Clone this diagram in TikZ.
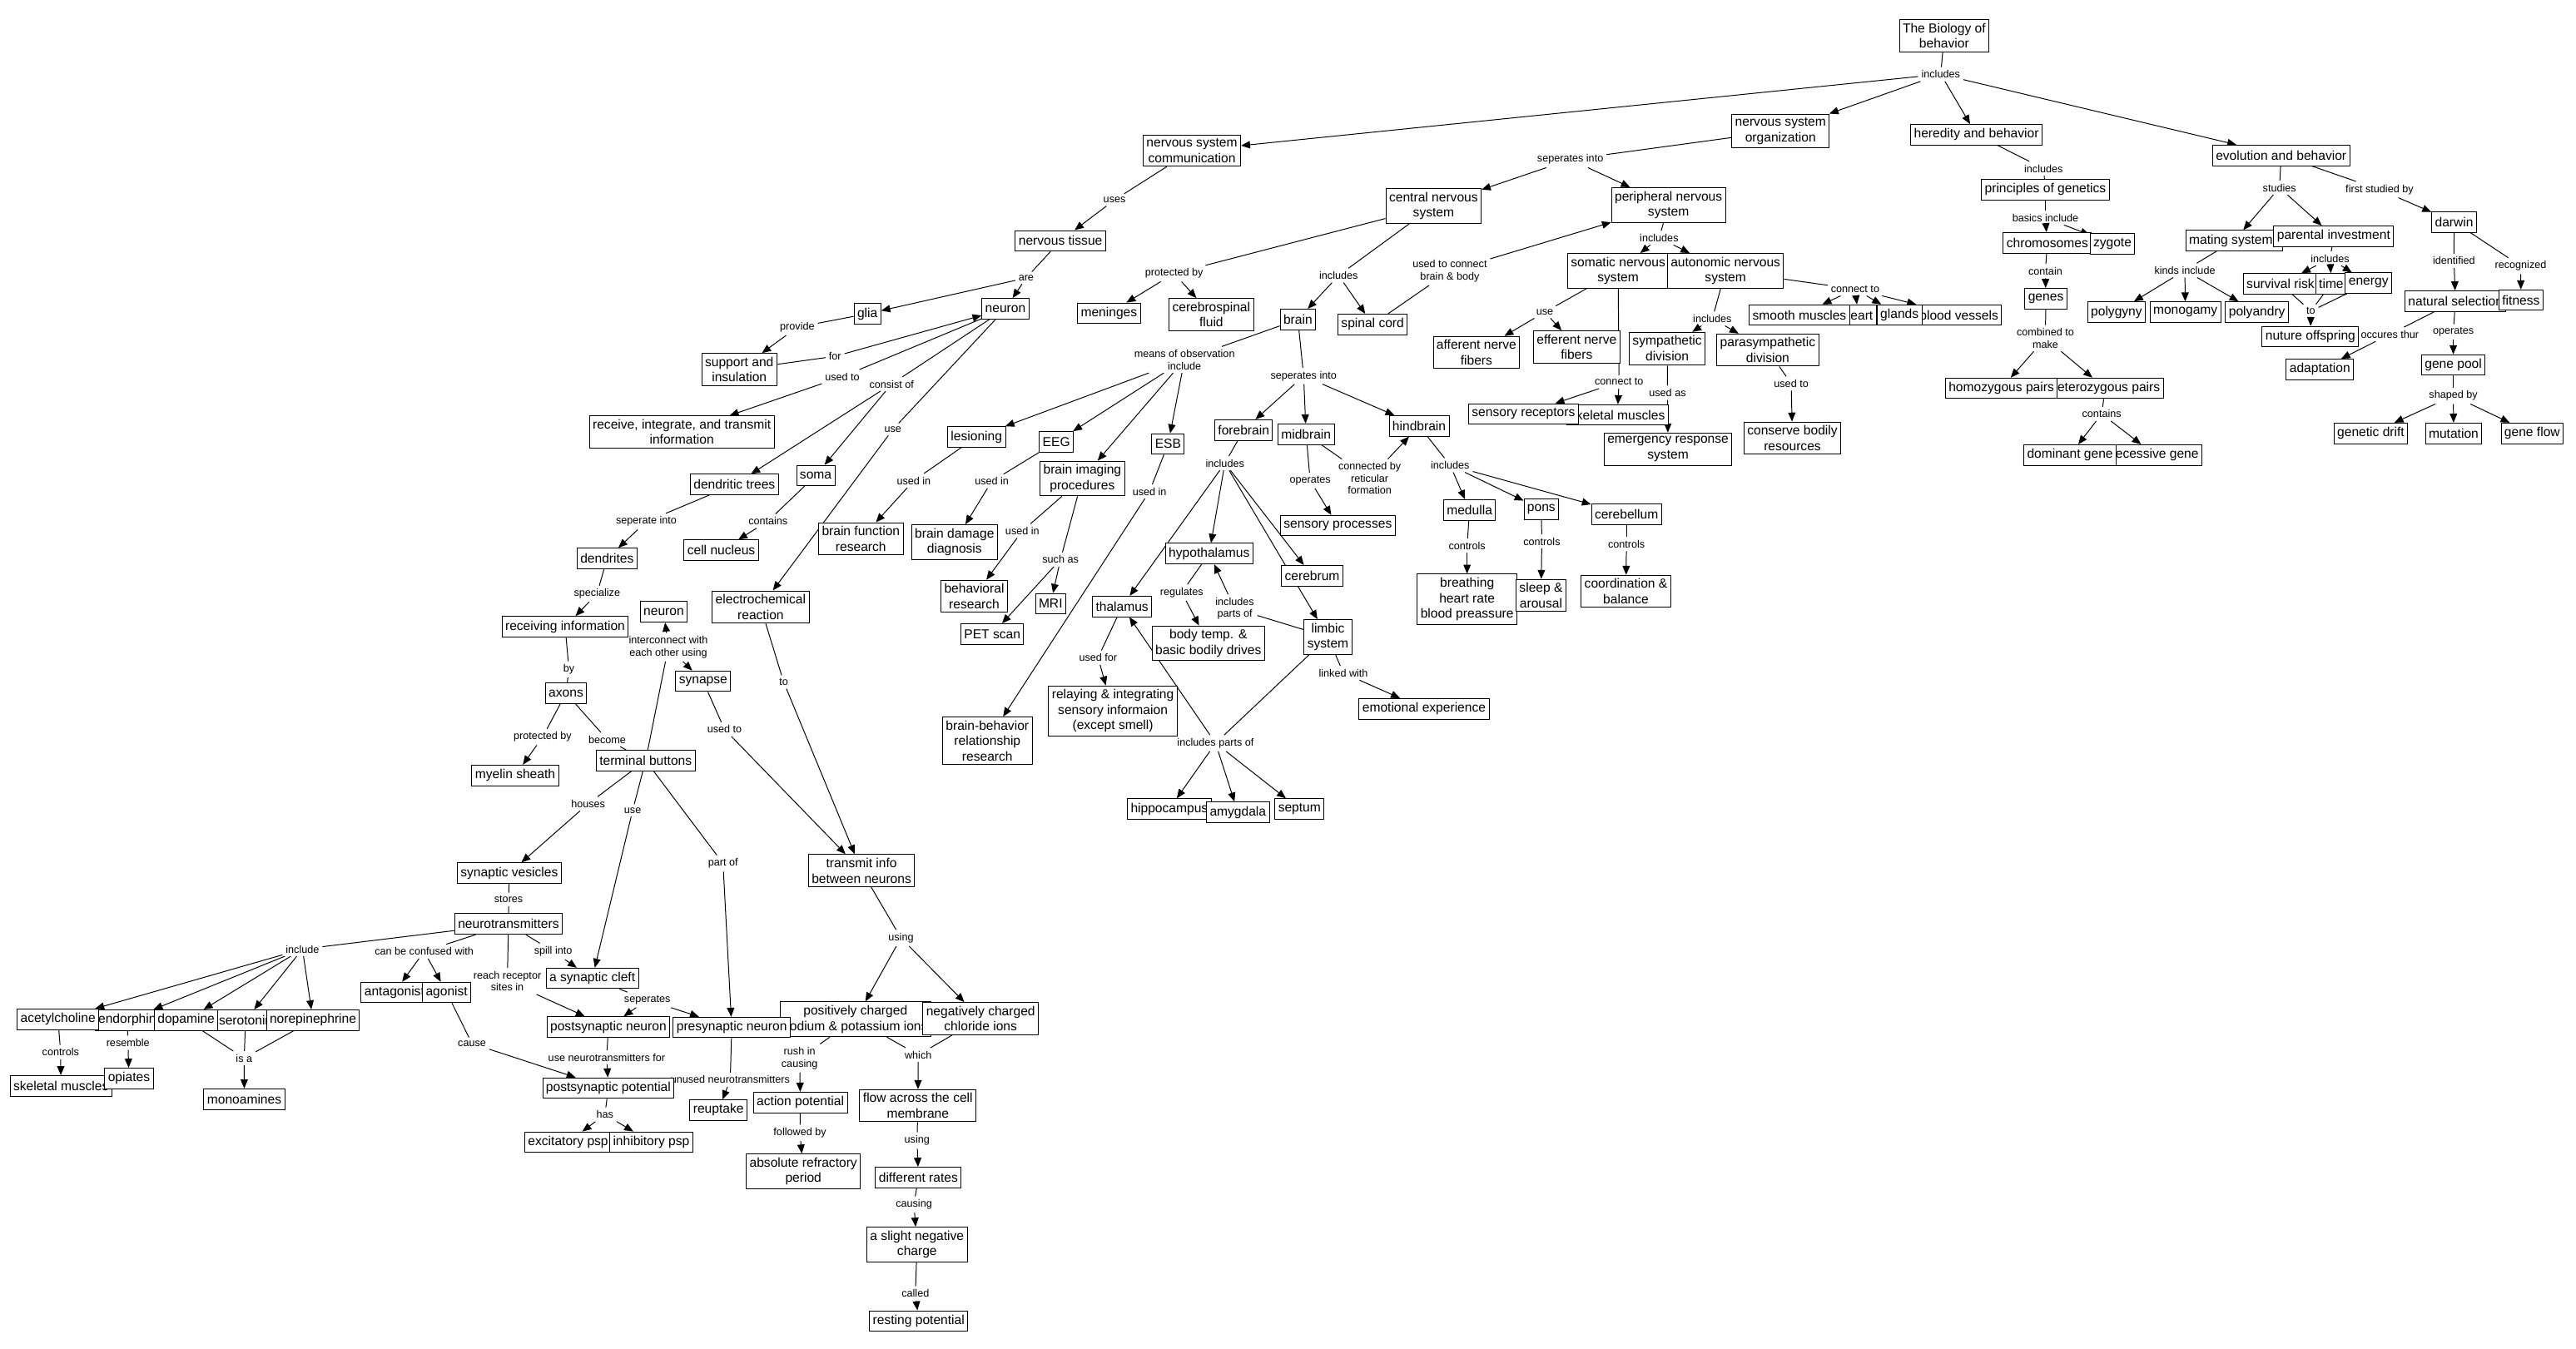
\documentclass[tikz,border=0pt]{standalone}
\usepackage{fontspec}
\setmainfont{Liberation Sans}
\usetikzlibrary{arrows.meta,backgrounds}
\newcommand\bxf{\fontsize{7.9}{9.4}\selectfont}
\newcommand\lbf{\fontsize{6.4}{7.4}\selectfont}
\begin{document}
\begin{tikzpicture}[x=1pt,y=-1pt,
 bx/.style={draw,fill=white,font=\bxf,align=center,inner xsep=2pt,inner ysep=2.2pt,minimum height=12.5pt,line width=0.5pt},
 lb/.style={font=\lbf,align=center,inner sep=1.8pt},
 ln/.style={line width=0.5pt},
 ar/.style={line width=0.5pt,-{Triangle[length=5.5pt,width=4.5pt]}}]
\useasboundingbox (0,0) rectangle (1568,821);
% ---------------- labels ----------------
\node[lb] (l1) at (1181.3,45.2) {includes};
\node[lb] (l2) at (955.8,97.1) {seperates into};
\node[lb] (l3) at (678.4,121.7) {uses};
\node[lb] (l4) at (1243.9,102.6) {includes};
\node[lb] (l5) at (1387.5,114.3) {studies};
\node[lb] (l6) at (1448.4,115.4) {first studied by};
\node[lb] (l7) at (1245,132.6) {basics include};
\node[lb] (l8) at (1245,165) {contain};
\node[lb] (l9) at (1245,205.9) {combined to\\make};
\node[lb] (l10) at (1279.3,252) {contains};
\node[lb] (l11) at (1329.9,164.6) {kinds include};
\node[lb] (l12) at (1418.3,157.4) {includes};
\node[lb] (l13) at (1406.6,189.4) {to};
\node[lb] (l14) at (1493.7,158.8) {identified};
\node[lb] (l15) at (1534.3,161.9) {recognized};
\node[lb] (l16) at (1454.7,203.5) {occures thur};
\node[lb] (l17) at (1493.3,202.1) {operates};
\node[lb] (l18) at (1493.3,241) {shaped by};
\node[lb] (l19) at (1009.9,144.8) {includes};
\node[lb] (l20) at (1129.2,176) {connect to};
\node[lb] (l21) at (1042.3,194) {includes};
\node[lb] (l22) at (1090.3,233.5) {used to};
\node[lb] (l23) at (1015,239.1) {used as};
\node[lb] (l24) at (985.5,232.5) {connect to};
\node[lb] (l25) at (940.3,190) {use};
\node[lb] (l26) at (714.7,166.5) {protected by};
\node[lb] (l27) at (814.8,167.7) {includes};
\node[lb] (l28) at (882.5,165) {used to connect\\brain \& body};
\node[lb] (l29) at (721,219) {means of observation\\include};
\node[lb] (l30) at (793.5,228.9) {seperates into};
\node[lb] (l31) at (556.2,292.6) {used in};
\node[lb] (l32) at (603.7,293) {used in};
\node[lb] (l33) at (622.3,323.2) {used in};
\node[lb] (l34) at (645.5,340.6) {such as};
\node[lb] (l35) at (699.7,299.2) {used in};
\node[lb] (l36) at (745.6,282) {includes};
\node[lb] (l37) at (797.5,292.6) {operates};
\node[lb] (l38) at (833.7,291.2) {connected by\\reticular\\formation};
\node[lb] (l39) at (882.7,283.2) {includes};
\node[lb] (l40) at (893,332.2) {controls};
\node[lb] (l41) at (938.5,329.6) {controls};
\node[lb] (l42) at (990,331.2) {controls};
\node[lb] (l43) at (719.3,360.7) {regulates};
\node[lb] (l44) at (751.6,370.5) {includes\\parts of};
\node[lb] (l45) at (668.4,400.3) {used for};
\node[lb] (l46) at (817.7,409.7) {linked with};
\node[lb] (l47) at (739.9,452.4) {includes parts of};
\node[lb] (l48) at (624.6,169.2) {are};
\node[lb] (l49) at (485.3,199.2) {provide};
\node[lb] (l50) at (508.3,216.9) {for};
\node[lb] (l51) at (512.7,229.3) {used to};
\node[lb] (l52) at (542.7,233.8) {consist of};
\node[lb] (l53) at (543.5,261.4) {use};
\node[lb] (l54) at (393.4,317.5) {seperate into};
\node[lb] (l55) at (467.5,317.2) {contains};
\node[lb] (l56) at (363.4,361.5) {specialize};
\node[lb] (l57) at (406.8,394) {interconnect with\\each other using};
\node[lb] (l58) at (346.3,407.5) {by};
\node[lb] (l59) at (477,415.2) {to};
\node[lb] (l60) at (441,444) {used to};
\node[lb] (l61) at (330.3,448.7) {protected by};
\node[lb] (l62) at (369.6,450.2) {become};
\node[lb] (l63) at (358,489.3) {houses};
\node[lb] (l64) at (385.1,493.3) {use};
\node[lb] (l65) at (440.1,525.6) {part of};
\node[lb] (l66) at (309.6,547.5) {stores};
\node[lb] (l67) at (548.4,571) {using};
\node[lb] (l68) at (184.1,577.8) {include};
\node[lb] (l69) at (258.2,579.2) {can be confused with};
\node[lb] (l70) at (336.7,579.2) {spill into};
\node[lb] (l71) at (308.8,597.3) {reach receptor\\sites in};
\node[lb] (l72) at (394,608.7) {seperates};
\node[lb] (l73) at (36.9,640.5) {controls};
\node[lb] (l74) at (77.9,634.8) {resemble};
\node[lb] (l75) at (148.6,644.2) {is a};
\node[lb] (l76) at (287.3,635.3) {cause};
\node[lb] (l77) at (369.3,643.7) {use neurotransmitters for};
\node[lb] (l78) at (368.2,678.5) {has};
\node[lb] (l79) at (444.5,657.3) {unused neurotransmitters};
\node[lb] (l80) at (486.7,644.2) {rush in\\causing};
\node[lb] (l81) at (558.9,642.2) {which};
\node[lb] (l82) at (486.9,689.7) {followed by};
\node[lb] (l83) at (558.2,694.3) {using};
\node[lb] (l84) at (556.3,733.3) {causing};
\node[lb] (l85) at (557.2,787.4) {called};
% ---------------- boxes: top and heredity/evolution ----------------
\node[bx] (bio) at (1183.4,21.7) {The Biology of\\behavior};
\node[bx] (nsc) at (725.5,91.7) {nervous system\\communication};
\node[bx] (nso) at (1083.8,79.7) {nervous system\\organization};
\node[bx] (her) at (1203,82) {heredity and behavior};
\node[bx] (evo) at (1388.5,94.6) {evolution and behavior};
\node[bx] (pog) at (1245,115.4) {principles of genetics};
\node[bx] (chr) at (1246.2,147.8) {chromosomes};
\node[bx] (zyg) at (1285.8,148.3) {zygote};
\node[bx] (gen) at (1245.3,181.8) {genes};
\node[bx,anchor=east] (het) at (1317,236.4) {heterozygous pairs};
\node[bx] (hom) at (1218.2,236.4) {homozygous pairs};
\node[bx,anchor=east] (rec) at (1340.5,277) {recessive gene};
\node[bx] (dom) at (1260,277) {dominant gene};
\node[bx,anchor=west] (mat) at (1330.2,146.5) {mating systems};
\node[bx] (par) at (1420.5,143.8) {parental investment};
\node[bx] (dar) at (1493.8,135.1) {darwin};
\node[bx] (pgy) at (1288.3,190) {polygyny};
\node[bx] (mon) at (1330.2,190) {monogamy};
\node[bx] (pan) at (1373.8,190) {polyandry};
\node[bx] (sur) at (1388.1,172.8) {survival risk};
\node[bx] (tim) at (1419,172.8) {time};
\node[bx] (ene) at (1441.7,172.4) {energy};
\node[bx] (nut) at (1406.3,205) {nuture offspring};
\node[bx,anchor=west] (nat) at (1463.6,183.3) {natural selection};
\node[bx] (fit) at (1534.5,182.7) {fitness};
\node[bx] (ada) at (1412.1,224.9) {adaptation};
\node[bx] (gpl) at (1493.3,222.2) {gene pool};
\node[bx] (gdr) at (1443.1,263.8) {genetic drift};
\node[bx] (mut) at (1493.5,263.8) {mutation};
\node[bx] (gfl) at (1541.3,263.8) {gene flow};
% ---------------- nervous system organization ----------------
\node[bx] (cns) at (872.6,125.4) {central nervous\\system};
\node[bx] (pns) at (1015.6,124.8) {peripheral nervous\\system};
\node[bx] (som) at (984.9,164.9) {somatic nervous\\system};
\node[bx] (aut) at (1050.3,164.9) {autonomic nervous\\system};
\node[bx] (blo) at (1192.4,191.8) {blood vessels};
\node[bx,anchor=west] (gla) at (1142.3,191.8) {glands};
\node[bx,anchor=east] (hea) at (1142.3,191.8) {heart};
\node[bx] (smo) at (1095.3,191.8) {smooth muscles};
\node[bx] (psy) at (1076,213.1) {parasympathetic\\division};
\node[bx] (sym) at (1014.8,212.1) {sympathetic\\division};
\node[bx] (aff) at (898.7,214.6) {afferent nerve\\fibers};
\node[bx] (eff) at (959.7,211.2) {efferent nerve\\fibers};
\node[bx,anchor=east] (skm) at (1015.7,252.6) {skeletal muscles};
\node[bx] (sen) at (927.3,252) {sensory receptors};
\node[bx] (eme) at (1015.3,273.4) {emergency response\\system};
\node[bx] (con) at (1091,266.7) {conserve bodily\\resources};
% ---------------- brain ----------------
\node[bx] (men) at (675,190.7) {meninges};
\node[bx] (csf) at (737.3,191.5) {cerebrospinal\\fluid};
\node[bx] (bra) at (790,194.5) {brain};
\node[bx] (spc) at (835.5,197.5) {spinal cord};
\node[bx] (les) at (594.4,266) {lesioning};
\node[bx] (eeg) at (643,269) {EEG};
\node[bx] (bip) at (658.8,291.3) {brain imaging\\procedures};
\node[bx] (esb) at (711,270.3) {ESB};
\node[bx] (fore) at (757,261.8) {forebrain};
\node[bx] (mid) at (795,264.3) {midbrain};
\node[bx] (hind) at (863.8,259.3) {hindbrain};
\node[bx] (spr) at (814.3,320) {sensory processes};
\node[bx] (med) at (894.5,310.4) {medulla};
\node[bx] (pon) at (938.2,310) {pons};
\node[bx] (cbl) at (990,313) {cerebellum};
\node[bx] (bre) at (893,364.8) {breathing\\heart rate\\blood preassure};
\node[bx] (sle) at (938,362.5) {sleep \&\\arousal};
\node[bx] (coo) at (989.7,360) {coordination \&\\balance};
\node[bx] (hyp) at (736,337) {hypothalamus};
\node[bx] (cer) at (798.7,350.5) {cerebrum};
\node[bx] (tha) at (683,369.2) {thalamus};
\node[bx] (bod) at (735.5,391.6) {body temp. \&\\basic bodily drives};
\node[bx] (lim) at (808.3,387.8) {limbic\\system};
\node[bx] (rel) at (677.4,432.8) {relaying \& integrating\\sensory informaion\\(except smell)};
\node[bx] (emo) at (866.8,431.5) {emotional experience};
\node[bx,anchor=west] (hip) at (686,492.5) {hippocampus};
\node[bx] (amy) at (753.5,494.5) {amygdala};
\node[bx] (sep) at (791,492.5) {septum};
\node[bx] (bdd) at (581,330) {brain damage\\diagnosis};
\node[bx] (beh) at (593,363) {behavioral\\research};
\node[bx] (mri) at (639.5,367.5) {MRI};
\node[bx] (pet) at (604,386) {PET scan};
\node[bx] (bbr) at (601,451) {brain-behavior\\relationship\\research};
% ---------------- neuron ----------------
\node[bx] (nt) at (645.5,146.6) {nervous tissue};
\node[bx] (gli) at (528,191) {glia};
\node[bx] (neu) at (612,188) {neuron};
\node[bx] (sup) at (450,225) {support and\\insulation};
\node[bx] (rit) at (415,263) {receive, integrate, and transmit\\information};
\node[bx] (dtr) at (447,295) {dendritic trees};
\node[bx] (smb) at (496.5,289.5) {soma};
\node[bx] (den) at (369.5,340) {dendrites};
\node[bx] (nuc) at (439,335) {cell nucleus};
\node[bx] (bfr) at (524,328) {brain function\\research};
\node[bx] (rcv) at (344,381.5) {receiving information};
\node[bx] (neb) at (404,372.5) {neuron};
\node[bx] (ecr) at (463,369.5) {electrochemical\\reaction};
\node[bx] (syn) at (428,414.7) {synapse};
\node[bx] (axo) at (344.5,422) {axons};
\node[bx] (tbu) at (393,463) {terminal buttons};
\node[bx] (mye) at (313.6,472) {myelin sheath};
\node[bx] (tib) at (524.4,530) {transmit info\\between neurons};
\node[bx] (sve) at (310,531.5) {synaptic vesicles};
\node[bx] (ntr) at (309.5,562.5) {neurotransmitters};
\node[bx] (cle) at (360.5,595.6) {a synaptic cleft};
\node[bx,anchor=west] (ant) at (219.6,604.2) {antagonist};
\node[bx] (ago) at (271.9,604.2) {agonist};
\node[bx,anchor=west] (ser) at (131,621) {serotonin};
\node[bx] (nor) at (190.5,621) {norepinephrine};
\node[bx,anchor=west] (endo) at (57.6,621) {endorphin};
\node[bx] (dop) at (113.3,621) {dopamine};
\node[bx] (ace) at (35.3,620.5) {acetylcholine};
\node[bx] (skb) at (37.1,661) {skeletal muscles};
\node[bx] (opi) at (78.5,656.5) {opiates};
\node[bx] (mono) at (148.7,669.1) {monoamines};
\node[bx] (pos) at (520.7,620.5) {positively charged\\sodium \& potassium ions};
\node[bx] (pst) at (370.3,625.2) {postsynaptic neuron};
\node[bx] (pre) at (445.4,625.5) {presynaptic neuron};
\node[bx] (neg) at (596.9,620.1) {negatively charged\\chloride ions};
\node[bx] (psp) at (370.3,662.4) {postsynaptic potential};
\node[bx] (exc) at (345.8,695.3) {excitatory psp};
\node[bx] (inh) at (396.4,695.3) {inhibitory psp};
\node[bx] (reu) at (437.3,675.8) {reuptake};
\node[bx] (ap) at (487.2,671.1) {action potential};
\node[bx] (flo) at (558.7,673.1) {flow across the cell\\membrane};
\node[bx] (arp) at (489,713.1) {absolute refractory\\period};
\node[bx] (rat) at (559,716.8) {different rates};
\node[bx] (snc) at (558.2,757.6) {a slight negative\\charge};
\node[bx] (rest) at (559.2,804.2) {resting potential};
% ---------------- connectors ----------------
\begin{scope}[on background layer]
\fill[white] (0,0) rectangle (1568,821);
\draw[ln] (bio) -- (l1);
\draw[ar] (l1) -- (nsc); \draw[ar] (l1) -- (nso); \draw[ar] (l1) -- (her); \draw[ar] (l1) -- (evo);
\draw[ln] (nso) -- (l2); \draw[ar] (l2) -- (cns); \draw[ar] (l2) -- (pns);
\draw[ln] (nsc) -- (l3); \draw[ar] (l3) -- (nt);
% heredity
\draw[ln] (her) -- (l4); \draw[ln] (l4) -- (pog);
\draw[ln] (pog) -- (l7); \draw[ar] (l7) -- (chr); \draw[ar] (l7) -- (zyg);
\draw[ln] (chr) -- (l8); \draw[ar] (l8) -- (gen);
\draw[ln] (gen) -- (l9); \draw[ar] (l9) -- (hom); \draw[ar] (l9) -- (het);
\draw[ln] (het) -- (l10); \draw[ar] (l10) -- (dom); \draw[ar] (l10) -- (rec);
% evolution
\draw[ln] (evo) -- (l5); \draw[ar] (l5) -- (mat); \draw[ar] (l5) -- (par);
\draw[ln] (evo) -- (l6); \draw[ar] (l6) -- (dar);
\draw[ln] (mat) -- (l11); \draw[ar] (l11) -- (pgy); \draw[ar] (l11) -- (mon); \draw[ar] (l11) -- (pan);
\draw[ln] (par) -- (l12); \draw[ar] (l12) -- (sur); \draw[ar] (l12) -- (tim); \draw[ar] (l12) -- (ene);
\draw[ln] (sur) -- (l13); \draw[ln] (tim) -- (l13); \draw[ln] (ene) -- (l13); \draw[ar] (l13) -- (nut);
\draw[ln] (dar) -- (l14); \draw[ar] (l14) -- (nat);
\draw[ln] (dar) -- (l15); \draw[ar] (l15) -- (fit);
\draw[ln] (nat) -- (l16); \draw[ar] (l16) -- (ada);
\draw[ln] (nat) -- (l17); \draw[ar] (l17) -- (gpl);
\draw[ln] (gpl) -- (l18); \draw[ar] (l18) -- (gdr); \draw[ar] (l18) -- (mut); \draw[ar] (l18) -- (gfl);
% peripheral
\draw[ln] (pns) -- (l19); \draw[ar] (l19) -- (som); \draw[ar] (l19) -- (aut);
\draw[ln] (aut) -- (l20); \draw[ar] (l20) -- (smo); \draw[ar] (l20) -- (hea); \draw[ar] (l20) -- (gla); \draw[ar] (l20) -- (blo);
\draw[ln] (aut) -- (l21); \draw[ar] (l21) -- (sym); \draw[ar] (l21) -- (psy);
\draw[ln] (psy) -- (l22); \draw[ar] (l22) -- (con);
\draw[ln] (sym) -- (l23); \draw[ar] (l23) -- (eme);
\draw[ln] (som) -- (l24); \draw[ar] (l24) -- (sen); \draw[ar] (l24) -- (skm);
\draw[ln] (som) -- (l25); \draw[ar] (l25) -- (aff); \draw[ar] (l25) -- (eff);
% central
\draw[ln] (cns) -- (l26); \draw[ar] (l26) -- (men); \draw[ar] (l26) -- (csf);
\draw[ln] (cns) -- (l27); \draw[ar] (l27) -- (bra); \draw[ar] (l27) -- (spc);
\draw[ln] (spc) -- (l28); \draw[ar] (l28) -- (pns);
% brain
\draw[ln] (bra) -- (l29); \draw[ar] (l29) -- (les); \draw[ar] (l29) -- (eeg); \draw[ar] (l29) -- (bip); \draw[ar] (l29) -- (esb);
\draw[ln] (bra) -- (l30); \draw[ar] (l30) -- (fore); \draw[ar] (l30) -- (mid); \draw[ar] (l30) -- (hind);
\draw[ln] (les) -- (l31); \draw[ar] (l31) -- (bfr);
\draw[ln] (eeg) -- (l32); \draw[ar] (l32) -- (bdd);
\draw[ln] (bip) -- (l33); \draw[ar] (l33) -- (beh);
\draw[ln] (bip) -- (l34); \draw[ar] (l34) -- (mri); \draw[ar] (l34) -- (pet);
\draw[ln] (esb) -- (l35); \draw[ar] (l35) -- (bbr);
\draw[ln] (fore) -- (l36); \draw[ar] (l36) -- (tha); \draw[ar] (l36) -- (hyp); \draw[ar] (l36) -- (cer); \draw[ar] (l36) -- (lim);
\draw[ln] (mid) -- (l37); \draw[ar] (l37) -- (spr);
\draw[ln] (mid) -- (l38); \draw[ar] (l38) -- (hind);
\draw[ln] (hind) -- (l39); \draw[ar] (l39) -- (med); \draw[ar] (l39) -- (pon); \draw[ar] (l39) -- (cbl);
\draw[ln] (med) -- (l40); \draw[ar] (l40) -- (bre);
\draw[ln] (pon) -- (l41); \draw[ar] (l41) -- (sle);
\draw[ln] (cbl) -- (l42); \draw[ar] (l42) -- (coo);
\draw[ln] (hyp) -- (l43); \draw[ar] (l43) -- (bod);
\draw[ln] (lim) -- (l44); \draw[ar] (l44) -- (hyp);
\draw[ln] (tha) -- (l45); \draw[ar] (l45) -- (rel);
\draw[ln] (lim) -- (l46); \draw[ar] (l46) -- (emo);
\draw[ln] (lim) -- (l47); \draw[ar] (l47) -- (tha); \draw[ar] (l47) -- (hip); \draw[ar] (l47) -- (amy); \draw[ar] (l47) -- (sep);
% neuron
\draw[ln] (nt) -- (l48); \draw[ar] (l48) -- (gli); \draw[ar] (l48) -- (neu);
\draw[ln] (gli) -- (l49); \draw[ar] (l49) -- (sup);
\draw[ln] (sup) -- (l50); \draw[ar] (l50) -- (neu);
\draw[ln] (neu) -- (l51); \draw[ar] (l51) -- (rit);
\draw[ln] (neu) -- (l52); \draw[ar] (l52) -- (dtr); \draw[ar] (l52) -- (smb);
\draw[ln] (neu) -- (l53); \draw[ar] (l53) -- (ecr);
\draw[ln] (dtr) -- (l54); \draw[ar] (l54) -- (den);
\draw[ln] (smb) -- (l55); \draw[ar] (l55) -- (nuc);
\draw[ln] (den) -- (l56); \draw[ar] (l56) -- (rcv);
\draw[ln] (rcv) -- (l58); \draw[ln] (l58) -- (axo);
\draw[ln] (axo) -- (l61); \draw[ar] (l61) -- (mye);
\draw[ln] (axo) -- (l62); \draw[ln] (l62) -- (tbu);
\draw[ln] (tbu) -- (l57); \draw[ar] (l57) -- (neb); \draw[ar] (l57) -- (syn);
\draw[ln] (syn) -- (l60); \draw[ar] (l60) -- (tib);
\draw[ln] (ecr) -- (l59); \draw[ar] (l59) -- (tib);
\draw[ln] (tbu) -- (l63); \draw[ar] (l63) -- (sve);
\draw[ln] (tbu) -- (l64); \draw[ar] (l64) -- (cle);
\draw[ln] (tbu) -- (l65); \draw[ar] (l65) -- (pre);
\draw[ln] (sve) -- (l66); \draw[ln] (l66) -- (ntr);
\draw[ln] (ntr) -- (l68); \draw[ar] (l68) -- (ace); \draw[ar] (l68) -- (endo); \draw[ar] (l68) -- (dop); \draw[ar] (l68) -- (ser); \draw[ar] (l68) -- (nor);
\draw[ln] (ntr) -- (l69); \draw[ar] (l69) -- (ant); \draw[ar] (l69) -- (ago);
\draw[ln] (ntr) -- (l70); \draw[ar] (l70) -- (cle);
\draw[ln] (ntr) -- (l71); \draw[ar] (l71) -- (pst);
\draw[ln] (cle) -- (l72); \draw[ar] (l72) -- (pst); \draw[ar] (l72) -- (pre);
\draw[ln] (ace) -- (l73); \draw[ar] (l73) -- (skb);
\draw[ln] (endo) -- (l74); \draw[ar] (l74) -- (opi);
\draw[ln] (dop) -- (l75); \draw[ln] (ser) -- (l75); \draw[ln] (nor) -- (l75); \draw[ar] (l75) -- (mono);
\draw[ln] (ago) -- (l76); \draw[ar] (l76) -- (psp);
\draw[ln] (pst) -- (l77); \draw[ar] (l77) -- (psp);
\draw[ln] (psp) -- (l78); \draw[ar] (l78) -- (exc); \draw[ar] (l78) -- (inh);
\draw[ln] (pre) -- (l79); \draw[ar] (l79) -- (reu);
\draw[ln] (tib) -- (l67); \draw[ar] (l67) -- (pos); \draw[ar] (l67) -- (neg);
\draw[ln] (pos) -- (l80); \draw[ar] (l80) -- (ap);
\draw[ln] (pos) -- (l81); \draw[ln] (neg) -- (l81); \draw[ar] (l81) -- (flo);
\draw[ln] (ap) -- (l82); \draw[ar] (l82) -- (arp);
\draw[ln] (flo) -- (l83); \draw[ar] (l83) -- (rat);
\draw[ln] (rat) -- (l84); \draw[ar] (l84) -- (snc);
\draw[ln] (snc) -- (l85); \draw[ar] (l85) -- (rest);
\end{scope}
\end{tikzpicture}
\end{document}
